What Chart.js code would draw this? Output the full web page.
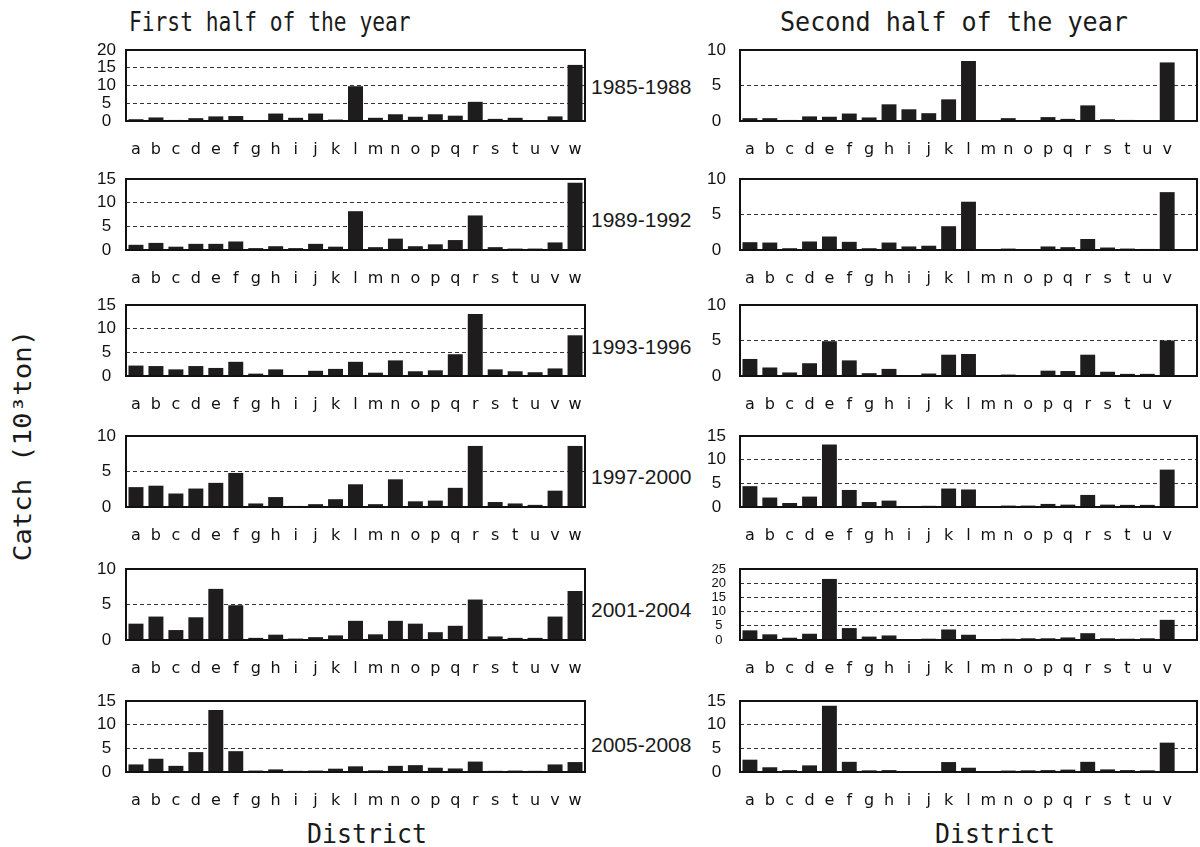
<!DOCTYPE html>
<html><head><meta charset="utf-8">
<script src="https://cdn.jsdelivr.net/npm/chart.js@4"></script>
<style>
html,body{margin:0;padding:0;background:#fff;}
body{width:1200px;height:847px;position:relative;overflow:hidden;}
canvas{position:absolute;}
.t{position:absolute;white-space:nowrap;color:#1a1a1a;line-height:1;}
</style></head><body>
<script>
// ---------- data ----------
const districtsFirst = ['a','b','c','d','e','f','g','h','i','j','k','l','m','n','o','p','q','r','s','t','u','v','w'];
const districtsSecond = ['a','b','c','d','e','f','g','h','i','j','k','l','m','n','o','p','q','r','s','t','u','v'];
const periods = ['1985-1988','1989-1992','1993-1996','1997-2000','2001-2004','2005-2008'];

const first1985 = [0.5,1.0,0.3,0.8,1.3,1.4,0.2,2.1,0.9,2.1,0.4,9.8,0.9,1.9,1.2,1.9,1.5,5.4,0.6,0.9,0.1,1.3,15.8];
const first1989 = [1.1,1.5,0.7,1.3,1.3,1.8,0.4,0.8,0.4,1.3,0.7,8.2,0.6,2.4,0.8,1.2,2.1,7.3,0.6,0.3,0.3,1.6,14.2];
const first1993 = [2.2,2.1,1.4,2.1,1.7,3.0,0.5,1.4,0,1.1,1.5,3.0,0.7,3.3,1.0,1.2,4.6,13.1,1.4,1.0,0.8,1.6,8.6];
const first1997 = [2.8,3.0,1.9,2.6,3.4,4.8,0.5,1.4,0.15,0.4,1.1,3.2,0.4,3.9,0.8,0.9,2.7,8.6,0.7,0.5,0.3,2.3,8.6];
const first2001 = [2.3,3.3,1.4,3.2,7.2,4.9,0.3,0.75,0.2,0.4,0.65,2.7,0.8,2.7,2.3,1.1,2.0,5.7,0.5,0.3,0.3,3.3,6.9];
const first2005 = [1.6,2.8,1.3,4.2,13.1,4.4,0.3,0.55,0.25,0.3,0.7,1.2,0.35,1.3,1.45,0.9,0.75,2.2,0.25,0.3,0.25,1.6,2.1];

const second1985 = [0.4,0.4,0.15,0.65,0.6,1.05,0.5,2.35,1.65,1.1,3.05,8.45,0.05,0.4,0.05,0.55,0.3,2.2,0.25,0.15,0.1,8.25];
const second1989 = [1.1,1.05,0.25,1.2,1.9,1.15,0.25,1.05,0.5,0.6,3.35,6.8,0,0.2,0,0.5,0.4,1.55,0.35,0.2,0.15,8.15];
const second1993 = [2.4,1.2,0.5,1.8,4.9,2.2,0.4,1.0,0.1,0.35,3.0,3.1,0,0.2,0.1,0.75,0.7,3.0,0.6,0.3,0.3,5.0];
const second1997 = [4.4,2.0,0.85,2.2,13.2,3.6,1.05,1.35,0.05,0.25,3.9,3.7,0.2,0.3,0.3,0.65,0.5,2.55,0.5,0.45,0.45,7.9];
const second2001 = [3.4,2.0,0.8,2.2,21.5,4.2,1.2,1.6,0.1,0.45,3.7,1.85,0.1,0.45,0.6,0.6,0.9,2.4,0.6,0.45,0.6,7.1];
const second2005 = [2.6,1.0,0.4,1.4,14.0,2.15,0.35,0.4,0,0,2.1,0.9,0,0.3,0.35,0.4,0.5,2.15,0.55,0.4,0.35,6.2];

const yMaxFirst = [20,15,15,10,10,15];
const yMaxSecond = [10,10,10,15,25,15];
const yStep = 5;

const seriesFirst = [first1985, first1989, first1993, first1997, first2001, first2005];
const seriesSecond = [second1985, second1989, second1993, second1997, second2001, second2005];

// ---------- layout ----------
const plotTops = [50,179,305,436,569,701];
const plotH = 71;
const padTop = 10;
const xAxisH = 40;
const yAxisW = 46;
const colLeft = {plotLeft:126, plotRight:585, tickPad:10, slots:23};
const colRight = {plotLeft:740, plotRight:1197, tickPad:14, slots:23};
const periodLabelY = [86,219,346,476,609,744];

const framePlugin = {
  id:'frame',
  afterDatasetsDraw(chart){
    const {ctx, chartArea:a} = chart;
    ctx.save();
    ctx.strokeStyle = '#111';
    ctx.lineWidth = 2;
    ctx.strokeRect(a.left, a.top, a.right - a.left, a.bottom - a.top);
    ctx.restore();
  }
};

function makePanel(col, top, labels, values, yMax){
  const cv = document.createElement('canvas');
  const left = col.plotLeft - yAxisW;
  const w = col.plotRight + 2 - left;
  const h = padTop + plotH + xAxisH;
  cv.width = w; cv.height = h;
  cv.style.left = left + 'px';
  cv.style.top = (top - padTop) + 'px';
  cv.style.width = w + 'px';
  cv.style.height = h + 'px';
  document.body.appendChild(cv);
  // pad with empty slots so both columns share the same category spacing
  const labs = labels.slice();
  const vals = values.slice();
  while (labs.length < col.slots) { labs.push(''); vals.push(null); }
  const tickSize = yMax > 20 ? 13 : 17;
  new Chart(cv, {
    type:'bar',
    data:{labels:labs, datasets:[{data:vals, backgroundColor:'#1f1c1d', borderWidth:0, barPercentage:0.75, categoryPercentage:1}]},
    options:{
      responsive:false, animation:false, devicePixelRatio:1,
      layout:{padding:{top:padTop, right:2, left:0, bottom:0}},
      plugins:{legend:{display:false}, tooltip:{enabled:false}},
      scales:{
        x:{
          grid:{display:false, drawTicks:false},
          border:{display:false},
          ticks:{color:'#111', font:{family:'DejaVu Sans', size:16}, padding:19, maxRotation:0, minRotation:0, autoSkip:false},
          afterFit(s){ s.height = xAxisH; s.paddingLeft = 0; s.paddingRight = 0; }
        },
        y:{
          min:0, max:yMax,
          grid:{color:(c)=> (c.tick && (c.tick.value === 0 || c.tick.value === yMax)) ? 'rgba(0,0,0,0)' : '#333', lineWidth:1, drawTicks:false},
          border:{display:false, dash:[4,3]},
          ticks:{stepSize:yStep, autoSkip:false, crossAlign:'center', padding:col.tickPad, color:'#111', font:{family:'Liberation Sans', size:tickSize, lineHeight:1}},
          afterFit(s){ s.width = yAxisW; s.paddingTop = 0; s.paddingBottom = 0; }
        }
      }
    },
    plugins:[framePlugin]
  });
}

for (let i = 0; i < 6; i++){
  makePanel(colLeft, plotTops[i], districtsFirst, seriesFirst[i], yMaxFirst[i]);
  makePanel(colRight, plotTops[i], districtsSecond, seriesSecond[i], yMaxSecond[i]);
}

// ---------- text ----------
function addText(str, cx, cy, targetW, font, size, rotate){
  const d = document.createElement('div');
  d.className = 't';
  d.textContent = str;
  d.style.fontFamily = font;
  d.style.fontSize = size + 'px';
  document.body.appendChild(d);
  const w = d.offsetWidth, hh = d.offsetHeight;
  const sx = targetW ? targetW / w : 1;
  d.style.left = (cx - w/2) + 'px';
  d.style.top = (cy - hh/2) + 'px';
  d.style.transform = (rotate ? 'rotate(-90deg) ' : '') + 'scaleX(' + sx + ')';
}
addText('First half of the year', 270, 21, 282, '"DejaVu Sans Mono"', 27);
addText('Second half of the year', 954, 21, 348, '"DejaVu Sans Mono"', 27);
addText('District', 367, 833, 120, '"DejaVu Sans Mono"', 27);
addText('District', 995, 833, 120, '"DejaVu Sans Mono"', 27);
addText('Catch (10\u00B3ton)', 22, 445, 232, '"DejaVu Sans Mono"', 25, true);
for (let i = 0; i < 6; i++){
  addText(periods[i], 641, periodLabelY[i], 100, '"Liberation Sans"', 21);
}
</script>
</body></html>
